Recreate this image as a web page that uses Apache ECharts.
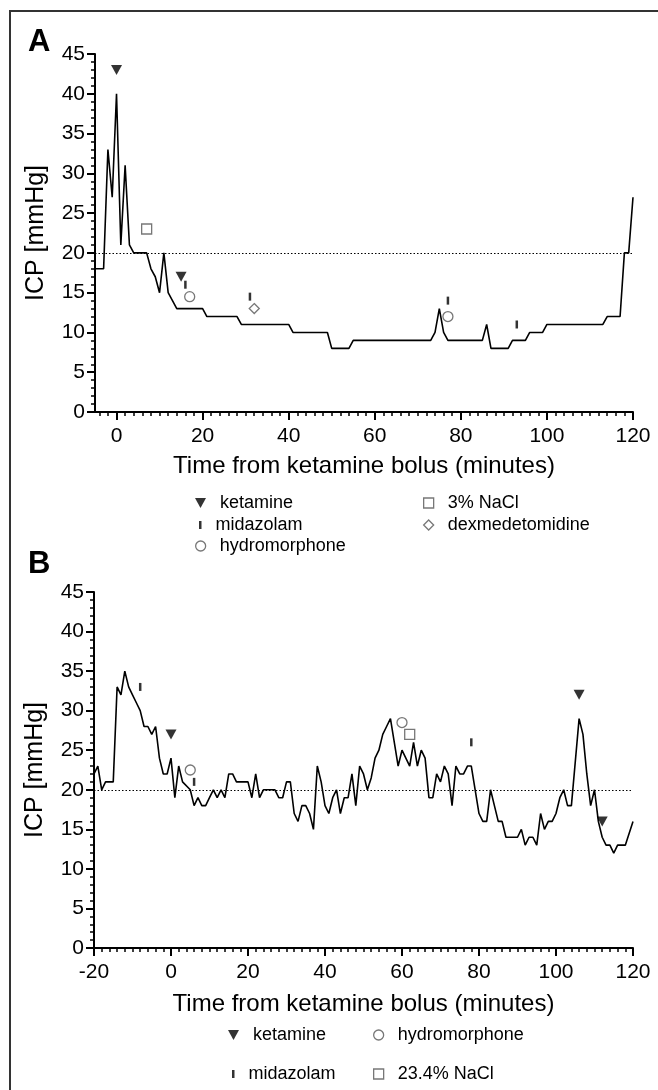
<!DOCTYPE html>
<html>
<head>
<meta charset="utf-8">
<script src="https://cdn.jsdelivr.net/npm/echarts@6/dist/echarts.min.js"></script>
<style>html,body{margin:0;padding:0;background:#fff;}#c{width:658px;height:1090px;}</style>
</head>
<body>
<div id="c"></div>
<script>
// ---------- Data ----------
// Panel A: ICP over time (minutes from ketamine bolus)
var icpA = [[-5,18],[-3,18],[-2,33],[-1,27],[0,40],[1,21],[2,31],[3,21],[4,20],[7,20],[8,18],[9,17],[10,15],[11,20],[12,15],[14,13],[20,13],[21,12],[28,12],[29,11],[40,11],[41,10],[49,10],[50,8],[54,8],[55,9],[73,9],[74,10],[75,13],[76,10],[77,9],[85,9],[86,11],[87,8],[91,8],[92,9],[95,9],[96,10],[99,10],[100,11],[113,11],[114,12],[117,12],[118,20],[119,20],[120,27]];
var ketamineA = [[0,43],[15,17]];
var midazolamA = [[16,16],[31,14.5],[77,14],[93,11]];
var hydromorphoneA = [[17,14.5],[77,12]];
var naclA = [[7,23]];
var dexmedA = [[32,13]];

// Panel B
var icpB = [[-20,22],[-19,23],[-18,20],[-17,21],[-15,21],[-14,33],[-13,32],[-12,35],[-11,33],[-10,32],[-9,31],[-8,30],[-7,28],[-6,28],[-5,27],[-4,28],[-3,24],[-2,22],[-1,22],[0,24],[1,19],[2,23],[3,21],[5,20],[6,18],[7,19],[8,18],[9,18],[10,19],[11,20],[12,19],[13,20],[14,19],[15,22],[16,22],[17,21],[20,21],[21,19],[22,22],[23,19],[24,20],[27,20],[28,19],[29,19],[30,21],[31,21],[32,17],[33,16],[34,18],[35,18],[36,17],[37,15],[38,23],[39,21],[40,18],[41,17],[42,19],[43,20],[44,17],[45,19],[46,19],[47,22],[48,18],[49,23],[50,22],[51,20],[52,21.5],[53,24],[54,25],[55,27],[56,28],[57,29],[58,26],[59,23],[60,25],[61,24],[62,23],[63,26],[64,23],[65,25],[66,24],[67,19],[68,19],[69,22],[70,21],[71,23],[72,22],[73,18],[74,23],[75,22],[76,22],[77,23],[78,23],[79,20],[80,17],[81,16],[82,16],[83,20],[84,18],[85,16],[86,16],[87,14],[90,14],[91,15],[92,13],[93,14],[94,14],[95,13],[96,17],[97,15],[98,16],[99,16],[100,17],[101,19],[102,20],[103,18],[104,18],[106,29],[107,27],[108,22],[109,18],[110,20],[111,16],[112,14],[113,13],[114,13],[115,12],[116,13],[118,13],[120,16]];
var ketamineB = [[0,27],[106,32],[112,16]];
var midazolamB = [[-8,33],[6,21],[78,26]];
var hydromorphoneB = [[5,22.5],[60,28.5]];
var naclB = [[62,27]];

var threshold = 20;
var xMajorA = [0,20,40,60,80,100,120];
var xMinorA = [];
for (var t = -4; t <= 120; t += 2) { if (t % 20 !== 0) xMinorA.push(t); }

var FONT = "'Liberation Sans', Arial, Helvetica, sans-serif";
var TRI = 'path://M0,0L10,0L5,9Z';

// ---------- Chart ----------
var chart = echarts.init(document.getElementById('c'), null, {renderer: 'canvas'});

function yAxisCfg(grid) {
  return {
    type: 'value', gridIndex: grid, min: 0, max: 45, interval: 5, position: 'left',
    name: 'ICP [mmHg]', nameLocation: 'middle', nameGap: 46,
    nameTextStyle: {fontSize: 25, color: '#000', fontFamily: FONT},
    axisLine: {show: true, onZero: false, lineStyle: {color: '#000', width: 2}},
    axisTick: {show: true, length: 8, lineStyle: {color: '#000', width: 2}},
    minorTick: {show: true, splitNumber: 5, length: 4, lineStyle: {color: '#000', width: 1.5}},
    axisLabel: {fontSize: 21, color: '#000', fontFamily: FONT, margin: 10},
    splitLine: {show: false}, minorSplitLine: {show: false}
  };
}

var titleName = 'Time from ketamine bolus (minutes)';

var openStyle = {color: '#fff', borderColor: '#555', borderWidth: 1.3};

function legendItem(name, icon, left, top, w, h, style) {
  var l = {
    data: [{name: name, icon: icon}], left: left, top: top, orient: 'horizontal',
    itemWidth: w, itemHeight: h, selectedMode: false,
    textStyle: {fontSize: 18, color: '#000', fontFamily: FONT, padding: [0, 0, 0, 9]}
  };
  if (style) l.itemStyle = style;
  return l;
}

var option = {
  animation: false,
  backgroundColor: '#fff',
  grid: [
    {left: 95, top: 54, width: 538, height: 358},
    {left: 94, top: 592, width: 539, height: 356}
  ],
  xAxis: [
    {
      type: 'value', gridIndex: 0, min: -5, max: 120, position: 'bottom',
      name: titleName, nameLocation: 'middle', nameGap: 42,
      nameTextStyle: {fontSize: 24, color: '#000', fontFamily: FONT},
      axisLine: {show: true, onZero: false, lineStyle: {color: '#000', width: 2}},
      axisTick: {show: true, length: 8, customValues: xMajorA, lineStyle: {color: '#000', width: 2}},
      axisLabel: {fontSize: 21, color: '#000', fontFamily: FONT, margin: 14, customValues: xMajorA},
      splitLine: {show: false}
    },
    {
      type: 'value', gridIndex: 0, min: -5, max: 120, position: 'bottom',
      axisLine: {show: false, onZero: false},
      axisTick: {show: true, length: 4, customValues: xMinorA, lineStyle: {color: '#000', width: 1.5}},
      axisLabel: {show: false, customValues: xMinorA},
      splitLine: {show: false}
    },
    {
      type: 'value', gridIndex: 1, min: -20, max: 120, interval: 20, position: 'bottom',
      name: titleName, nameLocation: 'middle', nameGap: 44,
      nameTextStyle: {fontSize: 24, color: '#000', fontFamily: FONT},
      axisLine: {show: true, onZero: false, lineStyle: {color: '#000', width: 2}},
      axisTick: {show: true, length: 8, lineStyle: {color: '#000', width: 2}},
      minorTick: {show: true, splitNumber: 10, length: 4, lineStyle: {color: '#000', width: 1.5}},
      axisLabel: {fontSize: 21, color: '#000', fontFamily: FONT, margin: 14},
      splitLine: {show: false}, minorSplitLine: {show: false}
    }
  ],
  yAxis: [yAxisCfg(0), yAxisCfg(1)],
  legend: [
    legendItem('ketamine', TRI, 190, 489, 11, 10, null),
    legendItem('midazolam', 'rect', 194, 511, 2.5, 8, null),
    legendItem('hydromorphone', 'circle', 190, 532, 10, 10, openStyle),
    legendItem('3% NaCl', 'rect', 418, 489, 10, 10, openStyle),
    legendItem('dexmedetomidine', 'diamond', 418, 511, 10, 10, openStyle),
    legendItem('ketamine', TRI, 223, 1021, 11, 10, null),
    legendItem('midazolam', 'rect', 227, 1060, 2.5, 8, null),
    legendItem('hydromorphone', 'circle', 368, 1021, 10, 10, openStyle),
    legendItem('23.4% NaCl', 'rect', 368, 1060, 10, 10, openStyle)
  ],
  graphic: [
    {type: 'rect', shape: {x: 10, y: 11, width: 700, height: 1100}, style: {fill: 'none', stroke: '#333', lineWidth: 2}, silent: true},
    {type: 'text', left: 28, top: 27, style: {text: 'A', font: 'bold 31px ' + FONT, fill: '#000'}},
    {type: 'text', left: 28, top: 549, style: {text: 'B', font: 'bold 31px ' + FONT, fill: '#000'}}
  ],
  series: [
    {
      name: 'ICP A', type: 'line', xAxisIndex: 0, yAxisIndex: 0, data: icpA,
      symbol: 'none', lineStyle: {color: '#000', width: 1.6}, z: 3,
      markLine: {silent: true, symbol: 'none', label: {show: false},
        lineStyle: {color: '#000', width: 1.2, type: [1.5, 2]}, data: [{yAxis: threshold}]}
    },
    {name: 'ketamine', type: 'scatter', xAxisIndex: 0, yAxisIndex: 0, data: ketamineA, symbol: TRI, symbolSize: [11, 10], itemStyle: {color: '#000'}, z: 5},
    {name: 'midazolam', type: 'scatter', xAxisIndex: 0, yAxisIndex: 0, data: midazolamA, symbol: 'rect', symbolSize: [2.5, 8], itemStyle: {color: '#000'}, z: 5},
    {name: 'hydromorphone', type: 'scatter', xAxisIndex: 0, yAxisIndex: 0, data: hydromorphoneA, symbol: 'circle', symbolSize: 10, itemStyle: openStyle, z: 5},
    {name: '3% NaCl', type: 'scatter', xAxisIndex: 0, yAxisIndex: 0, data: naclA, symbol: 'rect', symbolSize: 10, itemStyle: openStyle, z: 5},
    {name: 'dexmedetomidine', type: 'scatter', xAxisIndex: 0, yAxisIndex: 0, data: dexmedA, symbol: 'diamond', symbolSize: 10, itemStyle: openStyle, z: 5},
    {
      name: 'ICP B', type: 'line', xAxisIndex: 2, yAxisIndex: 1, data: icpB,
      symbol: 'none', lineStyle: {color: '#000', width: 1.6}, z: 3,
      markLine: {silent: true, symbol: 'none', label: {show: false},
        lineStyle: {color: '#000', width: 1.2, type: [1.5, 2]}, data: [{yAxis: threshold}]}
    },
    {name: 'ketamine', type: 'scatter', xAxisIndex: 2, yAxisIndex: 1, data: ketamineB, symbol: TRI, symbolSize: [11, 10], itemStyle: {color: '#000'}, z: 5},
    {name: 'midazolam', type: 'scatter', xAxisIndex: 2, yAxisIndex: 1, data: midazolamB, symbol: 'rect', symbolSize: [2.5, 8], itemStyle: {color: '#000'}, z: 5},
    {name: 'hydromorphone', type: 'scatter', xAxisIndex: 2, yAxisIndex: 1, data: hydromorphoneB, symbol: 'circle', symbolSize: 10, itemStyle: openStyle, z: 5},
    {name: '23.4% NaCl', type: 'scatter', xAxisIndex: 2, yAxisIndex: 1, data: naclB, symbol: 'rect', symbolSize: 10, itemStyle: openStyle, z: 5}
  ]
};
chart.setOption(option);
</script>
</body>
</html>
